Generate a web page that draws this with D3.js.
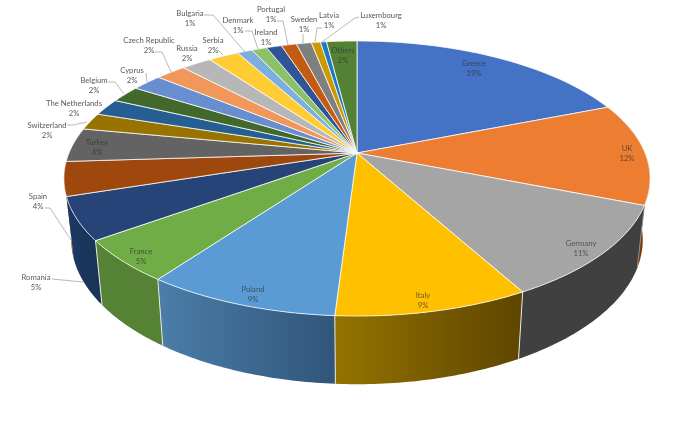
<!DOCTYPE html>
<html><head><meta charset="utf-8">
<script src="https://cdn.jsdelivr.net/npm/d3@7"></script>
<style>html,body{margin:0;padding:0;background:#fff}svg{display:block;filter:blur(.3px)}text{font-family:Lato,"Open Sans",sans-serif;font-size:7.7px}</style>
</head><body><svg id="c" width="680" height="428"></svg>
<script>
const categories=["Greece","UK","Germany","Italy","Poland","France","Romania","Spain","Turkey","Switzerland","The Netherlands","Belgium","Cyprus","Czech Republic","Russia","Serbia","Bulgaria","Denmark","Ireland","Portugal","Sweden","Latvia","Luxembourg","Others"];
const values=[19,12,11,9,9,5,5,4,4,2,2,2,2,2,2,2,1,1,1,1,1,0.6,0.4,2];
const percentLabels=["19%","12%","11%","9%","9%","5%","5%","4%","4%","2%","2%","2%","2%","2%","2%","2%","1%","1%","1%","1%","1%","1%","1%","2%"];
const topColors=["#4472c4","#ed7d31","#a5a5a5","#ffc000","#5b9bd5","#70ad47","#264478","#9e480e","#636363","#997300","#255e91","#43682b","#698ed0","#f1975a","#b7b7b7","#ffcd33","#7cafdd","#8cc168","#2f5597","#c55a11","#7f7f7f","#cc9900","#1f78c4","#548235"];
const wallLeft={UK:"#7a3a10",Germany:"#404040",Italy:"#947200",Poland:"#4b7ea9",France:"#558235",Romania:"#1c3a66",Spain:"#8a4510"};
const wallRight={UK:"#7a3a10",Germany:"#404040",Italy:"#5e4600",Poland:"#30557a",France:"#558235",Romania:"#1a3358",Spain:"#8a4510"};
const darkLabelled=["Greece","UK","Germany","Italy","Poland","France","Turkey","Others"];

// layout, apart from the data
const labelCentres={Greece:[474,63],UK:[627,148],Germany:[581,243],Italy:[423,295],Poland:[253,289],France:[141,251],Romania:[36,277],Spain:[38,196],Turkey:[97,142],Switzerland:[47,124.5],"The Netherlands":[74,103],Belgium:[94,80],Cyprus:[132,70],"Czech Republic":[149,40],Russia:[187,48],Serbia:[213,39.5],Bulgaria:[190,13],Denmark:[238,20],Ireland:[266,32],Portugal:[271,9],Sweden:[304,19],Latvia:[329,15],Luxembourg:[381,15],Others:[343,50]};
const leaders=[[[67,125],[73,125],[87,122]],[[108,82],[115,82],[124,94]],[[146,73],[147,82]],[[155,52],[162,52],[171,72]],[[218,50],[223,55]],[[204,15],[213,15],[245,52]],[[245,31],[252,31],[258,49]],[[277,21],[283,21],[288,45]],[[303,34],[303,43]],[[322,28],[317,28],[315,42]],[[359,17],[355,18],[322,42]],[[45,208],[50,208],[71,240]],[[52,279],[83,282]]];

const svg=d3.select("#c");
const cx=357,cy=153,a=288,b=132.8,k=0.1855;
const bottomCy=213,sx=0.975,sy=1.05;
const topPt=t=>{const u=Math.sin(t),v=Math.cos(t),d=1+k*v;return [cx+a*u/d,cy-b*v/d];};
const botPt=t=>{const p=topPt(t);return [cx+(p[0]-cx)*sx,bottomCy+(p[1]-cy)*sy];};
const arcs=d3.pie().sort(null).startAngle(0).endAngle(2*Math.PI)(values);
const colour=d3.scaleOrdinal(categories,topColors);
const path=d3.line();
const samples=(s,e)=>d3.range(0,41).map(i=>s+(e-s)*i/40);
const defs=svg.append("defs");

// wall panels, farthest first
const depth=o=>Math.cos((o.d.startAngle+o.d.endAngle)/2);
const front=arcs.map((d,i)=>({d,name:categories[i]})).filter(o=>wallLeft[o.name]).sort((p,q)=>depth(q)-depth(p));
front.forEach((o,i)=>{
  const xs=samples(o.d.startAngle,o.d.endAngle).map(t=>topPt(t)[0]);
  const g=defs.append("linearGradient").attr("id","wall"+i).attr("gradientUnits","userSpaceOnUse")
    .attr("x1",d3.min(xs)).attr("x2",d3.max(xs)).attr("y1",0).attr("y2",0);
  g.append("stop").attr("offset",0).attr("stop-color",wallLeft[o.name]);
  g.append("stop").attr("offset",1).attr("stop-color",wallRight[o.name]);
});
svg.append("g").selectAll("path").data(front).join("path")
  .attr("d",o=>{const ts=samples(o.d.startAngle,o.d.endAngle);return path(ts.map(topPt).concat(ts.slice().reverse().map(botPt)))+"Z";})
  .attr("fill",(o,i)=>`url(#wall${i})`);
svg.append("g").selectAll("line").data(arcs.slice(1,6)).join("line")
  .attr("x1",d=>topPt(d.endAngle)[0]).attr("y1",d=>topPt(d.endAngle)[1])
  .attr("x2",d=>botPt(d.endAngle)[0]).attr("y2",d=>botPt(d.endAngle)[1])
  .attr("stroke",(d,i)=>i===0?"#8a8a8a":"#e8e8e0").attr("stroke-width",1);

svg.append("g").selectAll("path").data(arcs).join("path")
  .attr("d",d=>path([[cx,cy]].concat(samples(d.startAngle,d.endAngle).map(topPt)))+"Z")
  .attr("fill",(d,i)=>colour(categories[i]))
  .attr("stroke","#fff").attr("stroke-width",0.9).attr("stroke-opacity",.85).attr("stroke-linejoin","round");

svg.append("g").selectAll("path").data(leaders).join("path")
  .attr("d",d=>path(d)).attr("fill","none").attr("stroke","#a6a6a6").attr("stroke-width",.8);

const lab=svg.append("g").selectAll("text").data(categories).join("text")
  .attr("text-anchor","middle")
  .attr("fill",c=>darkLabelled.includes(c)?"rgba(50,50,50,.72)":"#595959");
lab.append("tspan").attr("x",c=>labelCentres[c][0]).attr("y",c=>labelCentres[c][1]+3).text(c=>c);
lab.append("tspan").attr("x",c=>labelCentres[c][0]).attr("y",c=>labelCentres[c][1]+13).text((c,i)=>percentLabels[i]);
</script></body></html>
